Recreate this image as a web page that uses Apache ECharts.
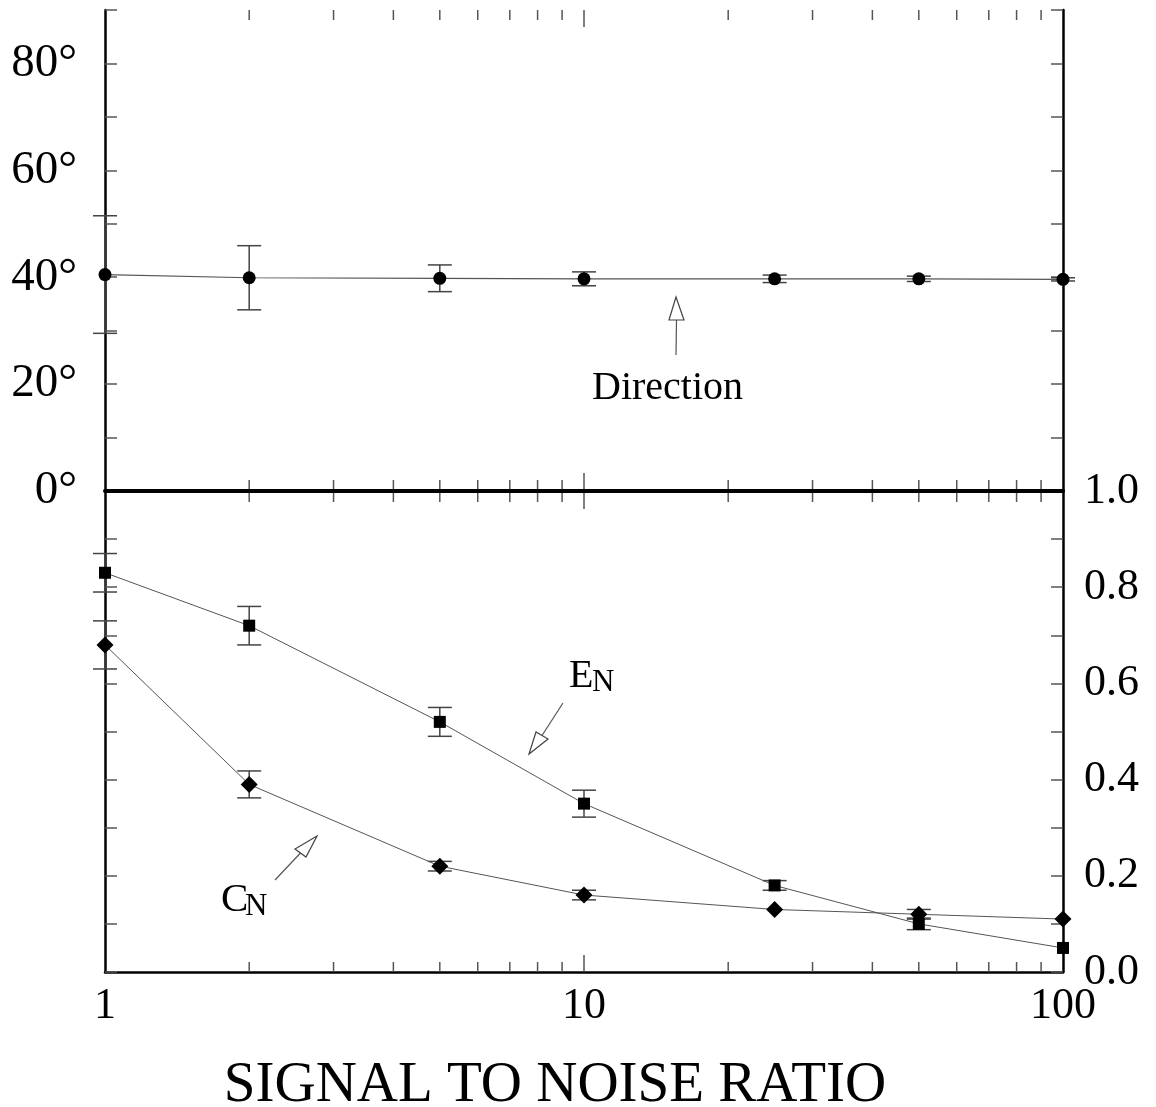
<!DOCTYPE html>
<html>
<head>
<meta charset="utf-8">
<script src="https://cdn.jsdelivr.net/npm/echarts@6/dist/echarts.min.js"></script>
<style>
  html, body { margin: 0; padding: 0; background: #fff; }
  #chart { width: 1156px; height: 1107px; }
</style>
</head>
<body>
<div id="chart"></div>
<script>
// signal to noise ratio (x, log scale)
const snr = [1, 2, 5, 10, 25, 50, 100];
// top panel: direction in degrees, with error half-widths
const direction = [40.5, 39.9, 39.8, 39.7, 39.7, 39.7, 39.6];
const directionErr = [11, 6, 2.5, 1.3, 0.7, 0.5, 0.3];
// bottom panel: E_N (squares) and C_N (diamonds)
const en = [0.83, 0.72, 0.52, 0.35, 0.18, 0.10, 0.05];
const enErr = [0.04, 0.04, 0.03, 0.028, 0.01, 0.012, 0];
const cn = [0.68, 0.39, 0.22, 0.16, 0.13, 0.12, 0.11];
const cnErr = [0.05, 0.028, 0.01, 0.01, 0, 0.01, 0];
// x axis tick positions
const xTicks = [2, 3, 4, 5, 6, 7, 8, 9, 10, 20, 30, 40, 50, 60, 70, 80, 90];
const degTicks = [0, 20, 40, 60, 80];
const ratioTicks = [0, 0.2, 0.4, 0.6, 0.8, 1.0];

const FONT = '"Liberation Serif", "Times New Roman", serif';
const chart = echarts.init(document.getElementById('chart'));

const zip = (xs, ys, es) => xs.map((x, i) => es ? [x, ys[i], es[i]] : [x, ys[i]]);

function errorBars(params, api) {
    const e = api.value(2);
    if (!e) return null;
    const x = api.value(0), y = api.value(1);
    const hi = api.coord([x, y + e]);
    const lo = api.coord([x, y - e]);
    const st = { stroke: '#444', lineWidth: 1.5 };
    return {
        type: 'group',
        children: [
            { type: 'line', shape: { x1: hi[0], y1: hi[1], x2: lo[0], y2: lo[1] }, style: st },
            { type: 'line', shape: { x1: hi[0] - 12, y1: hi[1], x2: hi[0] + 12, y2: hi[1] }, style: st },
            { type: 'line', shape: { x1: lo[0] - 12, y1: lo[1], x2: lo[0] + 12, y2: lo[1] }, style: st }
        ]
    };
}

function tickLen(v) { return v === 10 ? 17 : 10; }

function topTicks(params, api) {
    const cs = params.coordSys;
    const p = api.coord([api.value(0), 0]);
    const len = tickLen(api.value(0));
    const st = { stroke: '#555', lineWidth: 1.5 };
    return {
        type: 'group',
        children: [
            { type: 'line', shape: { x1: p[0], y1: cs.y, x2: p[0], y2: cs.y + len }, style: st },
            { type: 'line', shape: { x1: p[0], y1: p[1] - len - 1, x2: p[0], y2: p[1] + len + 1 }, style: st }
        ]
    };
}

function bottomTicks(params, api) {
    const p = api.coord([api.value(0), 0]);
    const len = tickLen(api.value(0));
    return {
        type: 'line',
        shape: { x1: p[0], y1: p[1], x2: p[0], y2: p[1] - len },
        style: { stroke: '#555', lineWidth: 1.5 }
    };
}

function yAxisBase(grid, pos, min, max, interval) {
    return {
        type: 'value', gridIndex: grid, position: pos, min: min, max: max, interval: interval,
        axisLine: { show: true, onZero: false, lineStyle: { color: '#000', width: 2.5 } },
        axisTick: { show: true, inside: true, length: 12, lineStyle: { color: '#555', width: 1.5 } },
        axisLabel: { show: false },
        splitLine: { show: false }
    };
}

function arrow(x1, y1, tip, b1, b2) {
    return [
        { type: 'line', shape: { x1: x1, y1: y1, x2: (b1[0] + b2[0]) / 2, y2: (b1[1] + b2[1]) / 2 },
          style: { stroke: '#555', lineWidth: 1.2 } },
        { type: 'polygon', shape: { points: [tip, b1, b2] },
          style: { fill: '#fff', stroke: '#444', lineWidth: 1.2 } }
    ];
}

function label(text, x, y, size) {
    return { type: 'text', x: x, y: y, z: 10, style: { text: text, font: size + 'px ' + FONT, fill: '#000' } };
}

const yTop = yAxisBase(0, 'left', 0, 90, 10);
yTop.axisLabel = {
    show: true, margin: 28, color: '#000', fontFamily: FONT, fontSize: 47,
    formatter: v => degTicks.includes(v) ? v + '°' : ''
};
const yBottomRight = yAxisBase(1, 'right', 0, 1, 0.1);
yBottomRight.axisLabel = {
    show: true, margin: 21, color: '#000', fontFamily: FONT, fontSize: 44,
    formatter: v => ratioTicks.some(t => Math.abs(t - v) < 1e-6) ? v.toFixed(1) : ''
};

const option = {
    animation: false,
    backgroundColor: '#fff',
    grid: [
        { left: 105, right: 93, top: 10, height: 481 },
        { left: 105, right: 93, top: 491, height: 481 }
    ],
    xAxis: [
        { type: 'log', gridIndex: 0, position: 'bottom', min: 1, max: 100, z: 5,
          axisLine: { lineStyle: { color: '#000', width: 4 } },
          axisTick: { show: false }, axisLabel: { show: false }, splitLine: { show: false } },
        { type: 'log', gridIndex: 0, position: 'top', min: 1, max: 100,
          axisLine: { lineStyle: { color: '#555', width: 2 } },
          axisTick: { show: false }, axisLabel: { show: false }, splitLine: { show: false } },
        { type: 'log', gridIndex: 1, position: 'bottom', min: 1, max: 100,
          axisLine: { lineStyle: { color: '#000', width: 2.5 } },
          axisTick: { show: false }, splitLine: { show: false },
          axisLabel: { color: '#000', fontFamily: FONT, fontSize: 44, margin: 12 } }
    ],
    yAxis: [
        yTop,
        yAxisBase(0, 'right', 0, 90, 10),
        yAxisBase(1, 'left', 0, 1, 0.1),
        yBottomRight
    ],
    series: [
        { type: 'custom', xAxisIndex: 0, yAxisIndex: 0, silent: true, z: 1,
          data: xTicks.map(v => [v, 0]), renderItem: topTicks },
        { type: 'custom', xAxisIndex: 2, yAxisIndex: 2, silent: true, z: 1,
          data: xTicks.map(v => [v, 0]), renderItem: bottomTicks },
        { type: 'custom', xAxisIndex: 0, yAxisIndex: 0, silent: true, z: 3,
          data: zip(snr, direction, directionErr), renderItem: errorBars },
        { type: 'custom', xAxisIndex: 2, yAxisIndex: 2, silent: true, z: 3,
          data: zip(snr, en, enErr), renderItem: errorBars },
        { type: 'custom', xAxisIndex: 2, yAxisIndex: 2, silent: true, z: 3,
          data: zip(snr, cn, cnErr), renderItem: errorBars },
        { name: 'Direction', type: 'line', xAxisIndex: 0, yAxisIndex: 0, clip: false, z: 4,
          data: zip(snr, direction), symbol: 'circle', symbolSize: 13,
          itemStyle: { color: '#000' }, lineStyle: { color: '#555', width: 1.2 } },
        { name: 'EN', type: 'line', xAxisIndex: 2, yAxisIndex: 2, clip: false, z: 4,
          data: zip(snr, en), symbol: 'rect', symbolSize: 12,
          itemStyle: { color: '#000' }, lineStyle: { color: '#555', width: 1 } },
        { name: 'CN', type: 'line', xAxisIndex: 2, yAxisIndex: 2, clip: false, z: 4,
          data: zip(snr, cn), symbol: 'diamond', symbolSize: 17,
          itemStyle: { color: '#000' }, lineStyle: { color: '#555', width: 1 } }
    ],
    graphic: [
        ...arrow(676, 355, [676, 297], [669, 320], [684, 320]),
        ...arrow(563, 703, [529, 754], [536, 732], [548, 739]),
        ...arrow(275, 880, [317, 836], [295, 849], [306, 857]),
        label('Direction', 592, 368, 40),
        label('E', 569, 656, 40),
        label('N', 592, 667, 31),
        label('C', 221, 880, 41),
        label('N', 245, 891, 31),
        { type: 'text', x: 555, y: 1058,
          style: { text: 'SIGNAL TO NOISE RATIO', font: '57px ' + FONT, fill: '#000', align: 'center' } }
    ]
};

chart.setOption(option);
</script>
</body>
</html>
